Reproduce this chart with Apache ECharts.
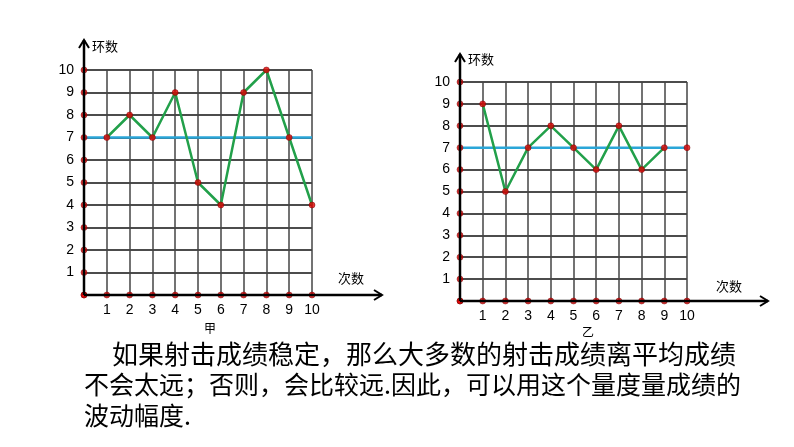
<!DOCTYPE html>
<html>
<head>
<meta charset="UTF-8">
<script src="https://cdn.jsdelivr.net/npm/echarts@6/dist/echarts.min.js"></script>
</head>
<body style="margin:0;background:#fff">
<div id="main" style="width:794px;height:447px"></div>
<script>
var shots = [1, 2, 3, 4, 5, 6, 7, 8, 9, 10];
var jia = [7, 8, 7, 9, 5, 4, 9, 10, 7, 4];
var yi = [9, 5, 7, 8, 7, 6, 8, 6, 7, 7];
var mean = 7;
var ticks = [0, 1, 2, 3, 4, 5, 6, 7, 8, 9, 10];

var chart = echarts.init(document.getElementById('main'));
var font = '"Noto Sans CJK SC", sans-serif';

function axisDots() {
  var d = [];
  ticks.forEach(function (t) { d.push([t, 0]); d.push([0, t]); });
  return d;
}
function axes(i) {
  var lab = { color: '#000', fontSize: 14, fontFamily: 'Liberation Sans' };
  return {
    x: { type: 'value', gridIndex: i, min: 0, max: 10, interval: 1,
      axisLine: { show: false }, axisTick: { show: false },
      axisLabel: Object.assign({ margin: 8, formatter: function (v) { return v === 0 ? '' : v; } }, lab),
      splitLine: { lineStyle: { color: '#444', width: 1.5 } } },
    y: { type: 'value', gridIndex: i, min: 0, max: 10, interval: 1,
      axisLine: { show: false }, axisTick: { show: false },
      axisLabel: Object.assign({ margin: 10, formatter: function (v) { return v === 0 ? '' : v; } }, lab),
      splitLine: { lineStyle: { color: '#111', width: 1.5 } } }
  };
}
var a0 = axes(0), a1 = axes(1);

function seriesFor(i, data) {
  var pts = data.map(function (v, k) { return [shots[k], v]; });
  var line = data === yi ? pts.slice(0, 9) : pts;
  return [
    { type: 'line', xAxisIndex: i, yAxisIndex: i, data: [[0, mean], [10, mean]],
      symbol: 'none', lineStyle: { color: '#2aa6d8', width: 2.5 }, z: 3 },
    { type: 'line', xAxisIndex: i, yAxisIndex: i, data: line, symbol: 'none',
      lineStyle: { color: '#22a04a', width: 2.5 }, z: 4 },
    { type: 'scatter', xAxisIndex: i, yAxisIndex: i, data: pts.concat(axisDots()),
      symbolSize: 6, itemStyle: { color: '#d00', borderColor: '#700', borderWidth: 0.6 }, z: 5 }
  ];
}

chart.setOption({
  animation: false,
  grid: [
    { left: 84, top: 70, width: 228, height: 225 },
    { left: 460, top: 82, width: 227, height: 219 }
  ],
  xAxis: [a0.x, a1.x],
  yAxis: [a0.y, a1.y],
  series: seriesFor(0, jia).concat(seriesFor(1, yi))
});

function arrowAxes(i, xEnd, yTop) {
  var o = chart.convertToPixel({ gridIndex: i }, [0, 0]);
  var ls = { stroke: '#000', lineWidth: 2.5 };
  return [
    { type: 'line', shape: { x1: o[0], y1: o[1], x2: xEnd, y2: o[1] }, style: ls, z: 10 },
    { type: 'polyline', shape: { points: [[xEnd - 8, o[1] - 5], [xEnd, o[1]], [xEnd - 8, o[1] + 5]] }, style: { stroke: '#000', lineWidth: 2, fill: null }, z: 10 },
    { type: 'line', shape: { x1: o[0], y1: o[1], x2: o[0], y2: yTop }, style: ls, z: 10 },
    { type: 'polyline', shape: { points: [[o[0] - 5, yTop + 8], [o[0], yTop], [o[0] + 5, yTop + 8]] }, style: { stroke: '#000', lineWidth: 2, fill: null }, z: 10 }
  ];
}
function txt(x, y, s, size) {
  return { type: 'text', x: x, y: y, style: { text: s, fontSize: size, fontFamily: font, fill: '#000' } };
}
chart.setOption({
  graphic: arrowAxes(0, 382, 40).concat(arrowAxes(1, 768, 54)).concat([
    txt(92, 40, '环数', 13), txt(338, 272, '次数', 13), txt(204, 322, '甲', 12),
    txt(468, 53, '环数', 13), txt(716, 280, '次数', 13), txt(582, 326, '乙', 12),
    txt(112, 341, '如果射击成绩稳定，那么大多数的射击成绩离平均成绩', 26),
    txt(84, 372, '不会太远；否则，会比较远.因此，可以用这个量度量成绩的', 25),
    txt(84, 403, '波动幅度.', 25)
  ])
});
</script>
</body>
</html>
